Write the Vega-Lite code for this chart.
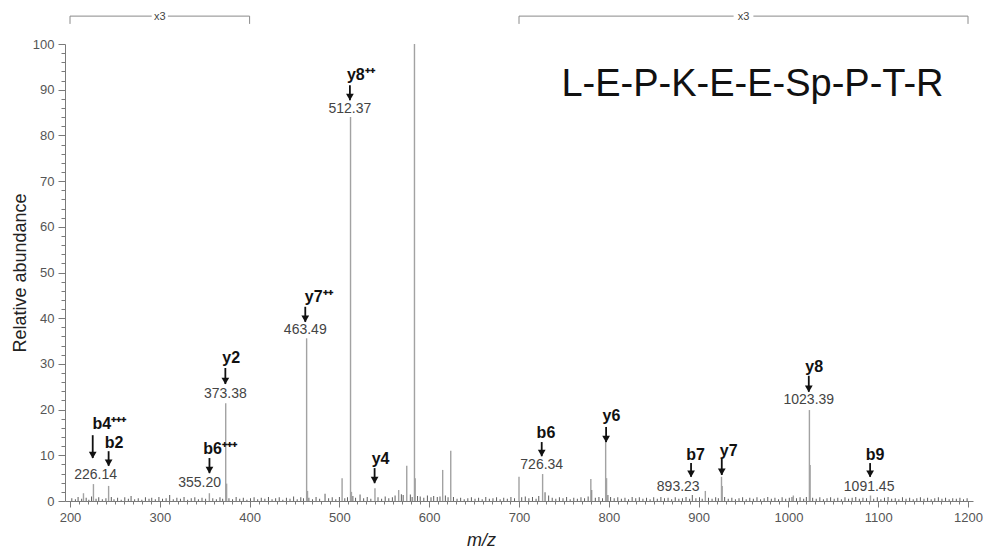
{
  "$schema": "https://vega.github.io/schema/vega-lite/v6.json",
  "width": 908,
  "height": 457,
  "autosize": "none",
  "padding": {"left": 65, "top": 44, "right": 18, "bottom": 50},
  "background": "white",
  "config": {
    "view": {"stroke": null},
    "font": "Liberation Sans",
    "axis": {
      "domainColor": "#7a7a7a",
      "tickColor": "#7a7a7a",
      "labelColor": "#555",
      "labelFontSize": 13,
      "labelFont": "Liberation Sans",
      "grid": false
    }
  },
  "datasets": {
    "noise": [
      {"m": 202, "i": 0.6}, {"m": 206, "i": 0.4}, {"m": 209, "i": 0.9}, {"m": 213, "i": 0.5}, {"m": 218, "i": 0.7},
      {"m": 221, "i": 0.3}, {"m": 224, "i": 1.0}, {"m": 229, "i": 0.5}, {"m": 232, "i": 0.8}, {"m": 236, "i": 0.4},
      {"m": 240, "i": 0.6}, {"m": 246, "i": 0.9}, {"m": 249, "i": 0.4}, {"m": 253, "i": 0.7}, {"m": 257, "i": 0.3},
      {"m": 261, "i": 0.8}, {"m": 265, "i": 0.5}, {"m": 268, "i": 1.1}, {"m": 272, "i": 0.4}, {"m": 276, "i": 0.6},
      {"m": 280, "i": 0.3}, {"m": 284, "i": 0.8}, {"m": 288, "i": 0.5}, {"m": 291, "i": 0.7}, {"m": 295, "i": 0.4},
      {"m": 299, "i": 0.9}, {"m": 303, "i": 0.5}, {"m": 307, "i": 0.6}, {"m": 311, "i": 1.3}, {"m": 315, "i": 0.4},
      {"m": 319, "i": 0.7}, {"m": 323, "i": 0.5}, {"m": 327, "i": 0.9}, {"m": 331, "i": 0.3}, {"m": 335, "i": 0.6},
      {"m": 339, "i": 0.8}, {"m": 343, "i": 0.4}, {"m": 347, "i": 0.7}, {"m": 351, "i": 0.5}, {"m": 359, "i": 0.6},
      {"m": 363, "i": 0.4}, {"m": 367, "i": 0.8}, {"m": 370, "i": 0.5}, {"m": 377, "i": 0.6}, {"m": 381, "i": 0.4},
      {"m": 385, "i": 0.9}, {"m": 389, "i": 0.5}, {"m": 393, "i": 0.7}, {"m": 397, "i": 0.3}, {"m": 401, "i": 0.6},
      {"m": 405, "i": 0.8}, {"m": 409, "i": 0.4}, {"m": 413, "i": 0.7}, {"m": 417, "i": 0.5}, {"m": 421, "i": 0.9},
      {"m": 425, "i": 0.4}, {"m": 429, "i": 0.6}, {"m": 433, "i": 0.8}, {"m": 437, "i": 0.3}, {"m": 441, "i": 0.7},
      {"m": 445, "i": 0.5}, {"m": 449, "i": 1.0}, {"m": 453, "i": 0.4}, {"m": 457, "i": 0.8}, {"m": 460, "i": 0.6},
      {"m": 466, "i": 0.7}, {"m": 470, "i": 0.4}, {"m": 474, "i": 0.9}, {"m": 478, "i": 0.5}, {"m": 484, "i": 1.6},
      {"m": 488, "i": 0.6}, {"m": 492, "i": 0.8}, {"m": 496, "i": 0.4}, {"m": 500, "i": 0.9}, {"m": 506, "i": 0.6},
      {"m": 509, "i": 0.8}, {"m": 515, "i": 1.1}, {"m": 518, "i": 0.7}, {"m": 523, "i": 1.4}, {"m": 527, "i": 0.6},
      {"m": 531, "i": 0.9}, {"m": 535, "i": 0.5}, {"m": 543, "i": 0.8}, {"m": 547, "i": 0.5}, {"m": 551, "i": 1.0},
      {"m": 555, "i": 0.6}, {"m": 559, "i": 0.8}, {"m": 562, "i": 1.2}, {"m": 569, "i": 1.5}, {"m": 571, "i": 1.3},
      {"m": 579, "i": 1.4}, {"m": 581, "i": 0.9}, {"m": 587, "i": 1.1}, {"m": 590, "i": 1.0}, {"m": 594, "i": 0.7},
      {"m": 598, "i": 1.2}, {"m": 602, "i": 0.8}, {"m": 605, "i": 1.1}, {"m": 609, "i": 0.9}, {"m": 612, "i": 1.0},
      {"m": 618, "i": 1.2}, {"m": 621, "i": 0.8}, {"m": 627, "i": 0.9}, {"m": 631, "i": 0.5}, {"m": 635, "i": 0.7},
      {"m": 639, "i": 0.4}, {"m": 643, "i": 0.6}, {"m": 647, "i": 0.8}, {"m": 651, "i": 0.5}, {"m": 655, "i": 0.7},
      {"m": 659, "i": 0.4}, {"m": 663, "i": 0.9}, {"m": 667, "i": 0.5}, {"m": 671, "i": 0.6}, {"m": 675, "i": 0.8},
      {"m": 679, "i": 0.4}, {"m": 683, "i": 0.7}, {"m": 687, "i": 0.5}, {"m": 691, "i": 0.9}, {"m": 695, "i": 0.6},
      {"m": 703, "i": 0.8}, {"m": 707, "i": 1.0}, {"m": 711, "i": 0.6}, {"m": 715, "i": 0.9}, {"m": 719, "i": 0.5},
      {"m": 722, "i": 1.1}, {"m": 729, "i": 1.9}, {"m": 733, "i": 1.2}, {"m": 737, "i": 0.7}, {"m": 741, "i": 0.5},
      {"m": 745, "i": 0.8}, {"m": 749, "i": 0.6}, {"m": 753, "i": 0.9}, {"m": 757, "i": 0.4}, {"m": 761, "i": 0.7},
      {"m": 765, "i": 0.5}, {"m": 769, "i": 0.8}, {"m": 773, "i": 0.6}, {"m": 777, "i": 1.0}, {"m": 781, "i": 2.4},
      {"m": 785, "i": 0.7}, {"m": 789, "i": 0.9}, {"m": 793, "i": 0.6}, {"m": 799, "i": 1.3}, {"m": 802, "i": 0.9},
      {"m": 806, "i": 0.6}, {"m": 810, "i": 0.8}, {"m": 814, "i": 0.5}, {"m": 818, "i": 0.7}, {"m": 822, "i": 0.4},
      {"m": 826, "i": 0.9}, {"m": 830, "i": 0.6}, {"m": 834, "i": 0.8}, {"m": 838, "i": 0.5}, {"m": 842, "i": 0.7},
      {"m": 846, "i": 0.4}, {"m": 850, "i": 0.8}, {"m": 854, "i": 0.5}, {"m": 858, "i": 0.9}, {"m": 862, "i": 0.6},
      {"m": 866, "i": 0.7}, {"m": 870, "i": 0.4}, {"m": 874, "i": 0.8}, {"m": 878, "i": 0.5}, {"m": 882, "i": 0.6},
      {"m": 886, "i": 0.9}, {"m": 890, "i": 0.5}, {"m": 893, "i": 1.3}, {"m": 897, "i": 0.6}, {"m": 901, "i": 0.8},
      {"m": 904, "i": 0.5}, {"m": 911, "i": 0.7}, {"m": 915, "i": 0.5}, {"m": 919, "i": 0.8}, {"m": 922, "i": 0.6},
      {"m": 929, "i": 0.9}, {"m": 933, "i": 0.5}, {"m": 937, "i": 0.7}, {"m": 941, "i": 0.4}, {"m": 945, "i": 0.6},
      {"m": 949, "i": 0.8}, {"m": 953, "i": 0.4}, {"m": 957, "i": 0.7}, {"m": 961, "i": 0.5}, {"m": 965, "i": 0.8},
      {"m": 969, "i": 0.4}, {"m": 973, "i": 0.6}, {"m": 977, "i": 0.9}, {"m": 981, "i": 0.5}, {"m": 985, "i": 0.7},
      {"m": 989, "i": 0.4}, {"m": 993, "i": 0.8}, {"m": 997, "i": 0.5}, {"m": 1001, "i": 0.7}, {"m": 1004, "i": 0.9},
      {"m": 1009, "i": 0.6}, {"m": 1013, "i": 0.8}, {"m": 1017, "i": 0.5}, {"m": 1020, "i": 0.9}, {"m": 1027, "i": 0.7},
      {"m": 1031, "i": 0.5}, {"m": 1035, "i": 0.8}, {"m": 1039, "i": 0.4}, {"m": 1043, "i": 0.6}, {"m": 1047, "i": 0.8},
      {"m": 1051, "i": 0.5}, {"m": 1055, "i": 0.7}, {"m": 1059, "i": 0.4}, {"m": 1063, "i": 0.8}, {"m": 1067, "i": 0.5},
      {"m": 1071, "i": 0.7}, {"m": 1075, "i": 0.9}, {"m": 1079, "i": 0.5}, {"m": 1083, "i": 0.7}, {"m": 1087, "i": 0.6},
      {"m": 1095, "i": 0.5}, {"m": 1099, "i": 0.8}, {"m": 1103, "i": 0.4}, {"m": 1107, "i": 0.7}, {"m": 1111, "i": 0.9},
      {"m": 1115, "i": 0.5}, {"m": 1119, "i": 0.6}, {"m": 1123, "i": 0.4}, {"m": 1127, "i": 0.8}, {"m": 1131, "i": 0.5},
      {"m": 1135, "i": 0.7}, {"m": 1139, "i": 0.4}, {"m": 1143, "i": 0.6}, {"m": 1147, "i": 0.8}, {"m": 1151, "i": 0.5},
      {"m": 1155, "i": 0.7}, {"m": 1159, "i": 0.4}, {"m": 1163, "i": 0.6}, {"m": 1167, "i": 0.8}, {"m": 1171, "i": 0.5},
      {"m": 1175, "i": 0.7}, {"m": 1179, "i": 0.4}, {"m": 1183, "i": 0.6}, {"m": 1187, "i": 0.5}, {"m": 1191, "i": 0.7},
      {"m": 1195, "i": 0.4}, {"m": 1199, "i": 0.6}
    ],
    "peaks": [
      {"m": 215, "i": 1.7}, {"m": 226.1, "i": 3.7}, {"m": 243, "i": 3.3}, {"m": 355.2, "i": 1.7},
      {"m": 373.4, "i": 21.4}, {"m": 374.4, "i": 3.8}, {"m": 463.5, "i": 35.6}, {"m": 464.5, "i": 2.2},
      {"m": 503, "i": 5.0}, {"m": 512.4, "i": 84}, {"m": 513.4, "i": 2.0}, {"m": 539.6, "i": 2.8},
      {"m": 566, "i": 2.4}, {"m": 575, "i": 7.7}, {"m": 583.6, "i": 100}, {"m": 584.4, "i": 5.0},
      {"m": 615, "i": 6.8}, {"m": 624, "i": 11.0}, {"m": 700, "i": 5.3}, {"m": 726.3, "i": 5.9},
      {"m": 780, "i": 4.8}, {"m": 796.5, "i": 14.0}, {"m": 797.5, "i": 5.0}, {"m": 907.5, "i": 2.2},
      {"m": 925.5, "i": 5.3}, {"m": 926.3, "i": 3.3}, {"m": 1005.5, "i": 1.2}, {"m": 1023.4, "i": 19.9},
      {"m": 1024.2, "i": 7.9}, {"m": 1091.4, "i": 1.2}
    ],
    "arrows": [
      {"m": 511.7, "top": 91.0, "tip": 87.7},
      {"m": 462, "top": 42.5, "tip": 39.2},
      {"m": 373, "top": 29.1, "tip": 25.6},
      {"m": 225.3, "top": 14.4, "tip": 9.4},
      {"m": 243, "top": 10.9, "tip": 7.7},
      {"m": 355.3, "top": 9.4, "tip": 6.1},
      {"m": 539.2, "top": 7.2, "tip": 3.9},
      {"m": 725.3, "top": 12.9, "tip": 9.8},
      {"m": 797, "top": 16.2, "tip": 12.9},
      {"m": 891.6, "top": 8.3, "tip": 5.3},
      {"m": 925.8, "top": 9.2, "tip": 5.7},
      {"m": 1022.7, "top": 27.4, "tip": 23.9},
      {"m": 1091, "top": 8.3, "tip": 5.3}
    ],
    "ions": [
      {"m": 523.8, "v": 93.2, "t": "y8⁺⁺"},
      {"m": 477, "v": 44.6, "t": "y7⁺⁺"},
      {"m": 379.5, "v": 31.3, "t": "y2"},
      {"m": 243.7, "v": 16.8, "t": "b4⁺⁺⁺"},
      {"m": 249, "v": 12.7, "t": "b2"},
      {"m": 367, "v": 11.4, "t": "b6⁺⁺⁺"},
      {"m": 545.8, "v": 9.2, "t": "y4"},
      {"m": 730, "v": 14.9, "t": "b6"},
      {"m": 803, "v": 18.6, "t": "y6"},
      {"m": 896.6, "v": 10.1, "t": "b7"},
      {"m": 933.5, "v": 10.9, "t": "y7"},
      {"m": 1028.7, "v": 29.3, "t": "y8"},
      {"m": 1096.5, "v": 10.1, "t": "b9"}
    ],
    "masses": [
      {"m": 511.7, "v": 85.8, "t": "512.37"},
      {"m": 462, "v": 37.4, "t": "463.49"},
      {"m": 373, "v": 23.4, "t": "373.38"},
      {"m": 228.5, "v": 5.7, "t": "226.14"},
      {"m": 344.3, "v": 3.9, "t": "355.20"},
      {"m": 725.3, "v": 7.9, "t": "726.34"},
      {"m": 877.3, "v": 3.1, "t": "893.23"},
      {"m": 1022.7, "v": 22.1, "t": "1023.39"},
      {"m": 1089.9, "v": 3.1, "t": "1091.45"}
    ],
    "brackets": [
      {"a": 200, "b": 291, "v": 106.1},
      {"a": 309, "b": 400, "v": 106.1},
      {"a": 700, "b": 939, "v": 106.1},
      {"a": 961, "b": 1200, "v": 106.1}
    ],
    "bracketEnds": [
      {"m": 200, "v": 106.1, "v2": 104.4}, {"m": 400, "v": 106.1, "v2": 104.4},
      {"m": 700, "v": 106.1, "v2": 104.4}, {"m": 1200, "v": 106.1, "v2": 104.4}
    ],
    "zoomLabels": [
      {"m": 300, "v": 105.8, "t": "x3"}, {"m": 950, "v": 105.8, "t": "x3"}
    ],
    "sequence": [
      {"m": 960, "v": 91, "t": "L-E-P-K-E-E-Sp-P-T-R"}
    ]
  },
  "layer": [
    {
      "data": {"name": "noise"},
      "mark": {"type": "bar", "color": "#5e5e5e", "size": 1},
      "encoding": {
        "x": {
          "field": "m", "type": "quantitative",
          "scale": {"domain": [200, 1200], "nice": false, "zero": false},
          "axis": {
            "title": "m/z",
            "titleFontStyle": "italic",
            "titleFontWeight": "normal",
            "titleFontSize": 18,
            "titleColor": "#222",
            "titleFont": "Liberation Sans",
            "titleX": 416,
            "titleY": 44,
            "titleBaseline": "alphabetic",
            "tickCount": 500,
            "values": [200, 210, 220, 230, 240, 250, 260, 270, 280, 290, 300, 310, 320, 330, 340, 350, 360, 370, 380, 390, 400, 410, 420, 430, 440, 450, 460, 470, 480, 490, 500, 510, 520, 530, 540, 550, 560, 570, 580, 590, 600, 610, 620, 630, 640, 650, 660, 670, 680, 690, 700, 710, 720, 730, 740, 750, 760, 770, 780, 790, 800, 810, 820, 830, 840, 850, 860, 870, 880, 890, 900, 910, 920, 930, 940, 950, 960, 970, 980, 990, 1000, 1010, 1020, 1030, 1040, 1050, 1060, 1070, 1080, 1090, 1100, 1110, 1120, 1130, 1140, 1150, 1160, 1170, 1180, 1190, 1200],
            "labelExpr": "datum.value % 100 === 0 ? datum.value : ''",
            "labelFlush": false,
            "labelOverlap": false,
            "labelPadding": 4,
            "tickSize": {"condition": {"test": "datum.value % 100 === 0", "value": 6}, "value": 3}
          }
        },
        "y": {
          "field": "i", "type": "quantitative", "stack": null,
          "scale": {"domain": [0, 100], "nice": false},
          "axis": {
            "title": "Relative abundance",
            "titleFontWeight": "normal",
            "titleFontSize": 18,
            "titleColor": "#222",
            "titleFont": "Liberation Sans",
            "titlePadding": 3,
            "tickCount": 500,
            "values": [0, 2, 4, 6, 8, 10, 12, 14, 16, 18, 20, 22, 24, 26, 28, 30, 32, 34, 36, 38, 40, 42, 44, 46, 48, 50, 52, 54, 56, 58, 60, 62, 64, 66, 68, 70, 72, 74, 76, 78, 80, 82, 84, 86, 88, 90, 92, 94, 96, 98, 100],
            "labelExpr": "datum.value % 10 === 0 ? datum.value : ''",
            "labelOverlap": false,
            "labelFlush": false,
            "labelPadding": 4,
            "tickSize": {"condition": {"test": "datum.value % 10 === 0", "value": 7}, "value": 4}
          }
        }
      }
    },
    {
      "data": {"name": "peaks"},
      "mark": {"type": "bar", "color": "#a2a2a2", "size": 1.4},
      "encoding": {
        "x": {"field": "m", "type": "quantitative"},
        "y": {"field": "i", "type": "quantitative", "stack": null}
      }
    },
    {
      "data": {"name": "arrows"},
      "mark": {"type": "rule", "color": "#111", "strokeWidth": 1.8},
      "encoding": {
        "x": {"field": "m", "type": "quantitative"},
        "y": {"field": "top", "type": "quantitative"},
        "y2": {"field": "tip"}
      }
    },
    {
      "data": {"name": "arrows"},
      "mark": {"type": "point", "shape": "triangle-down", "filled": true, "color": "#111", "opacity": 1, "size": 60, "yOffset": -3},
      "encoding": {
        "x": {"field": "m", "type": "quantitative"},
        "y": {"field": "tip", "type": "quantitative"}
      }
    },
    {
      "data": {"name": "ions"},
      "mark": {"type": "text", "fontWeight": "bold", "fontSize": 16, "color": "#111", "align": "center", "baseline": "middle", "font": "Liberation Sans"},
      "encoding": {
        "x": {"field": "m", "type": "quantitative"},
        "y": {"field": "v", "type": "quantitative"},
        "text": {"field": "t"}
      }
    },
    {
      "data": {"name": "masses"},
      "mark": {"type": "text", "fontSize": 14, "color": "#444", "align": "center", "baseline": "middle", "font": "Liberation Sans"},
      "encoding": {
        "x": {"field": "m", "type": "quantitative"},
        "y": {"field": "v", "type": "quantitative"},
        "text": {"field": "t"}
      }
    },
    {
      "data": {"name": "brackets"},
      "mark": {"type": "rule", "color": "#8a8a8a", "strokeWidth": 1},
      "encoding": {
        "x": {"field": "a", "type": "quantitative"},
        "x2": {"field": "b"},
        "y": {"field": "v", "type": "quantitative"}
      }
    },
    {
      "data": {"name": "bracketEnds"},
      "mark": {"type": "rule", "color": "#8a8a8a", "strokeWidth": 1},
      "encoding": {
        "x": {"field": "m", "type": "quantitative"},
        "y": {"field": "v", "type": "quantitative"},
        "y2": {"field": "v2"}
      }
    },
    {
      "data": {"name": "zoomLabels"},
      "mark": {"type": "text", "fontSize": 11, "color": "#444", "align": "center", "baseline": "middle", "font": "Liberation Sans"},
      "encoding": {
        "x": {"field": "m", "type": "quantitative"},
        "y": {"field": "v", "type": "quantitative"},
        "text": {"field": "t"}
      }
    },
    {
      "data": {"name": "sequence"},
      "mark": {"type": "text", "fontSize": 38, "color": "#111", "align": "center", "baseline": "middle", "font": "Liberation Sans"},
      "encoding": {
        "x": {"field": "m", "type": "quantitative"},
        "y": {"field": "v", "type": "quantitative"},
        "text": {"field": "t"}
      }
    }
  ]
}
